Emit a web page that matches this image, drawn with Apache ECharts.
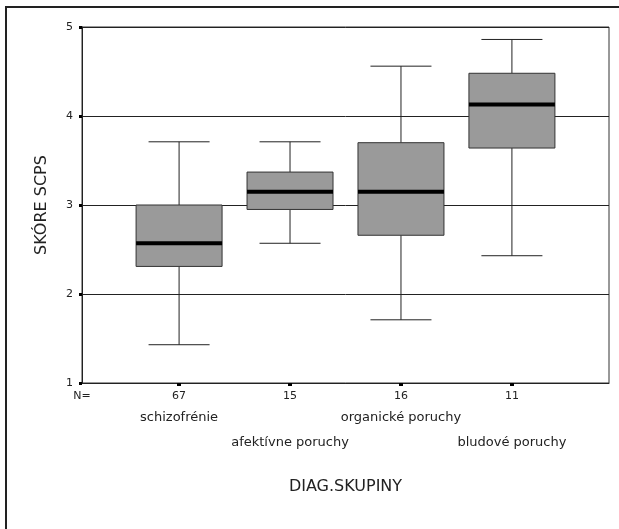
<!DOCTYPE html>
<html>
<head>
<meta charset="utf-8">
<script src="https://cdn.jsdelivr.net/npm/echarts@6/dist/echarts.min.js"></script>
<style>
html,body{margin:0;padding:0;background:#fff;}
#frame{position:absolute;left:5px;top:6px;width:640px;height:560px;border:2px solid #222;box-sizing:border-box;}
#chart{position:absolute;left:0;top:0;width:619px;height:529px;}
</style>
</head>
<body>
<div id="frame"></div>
<div id="chart"></div>
<script>
// Data
const categories = ['schizofrénie', 'afektívne poruchy', 'organické poruchy', 'bludové poruchy'];
const counts = ['67', '15', '16', '11'];
const whiskerLow = [1.43, 2.57, 1.71, 2.43];
const q1 = [2.31, 2.95, 2.66, 3.64];
const median = [2.57, 3.15, 3.15, 4.13];
const q3 = [3.00, 3.37, 3.70, 4.48];
const whiskerHigh = [3.71, 3.71, 4.56, 4.86];
const yTicks = [1, 2, 3, 4, 5];

const boxData = categories.map((c, i) => [i + 1, whiskerLow[i], q1[i], median[i], q3[i], whiskerHigh[i]]);

const FONT = '"DejaVu Sans", "Liberation Sans", Arial, sans-serif';

function renderBox(params, api) {
  const x = api.value(0);
  const lo = api.coord([x, api.value(1)]);
  const b1 = api.coord([x, api.value(2)]);
  const md = api.coord([x, api.value(3)]);
  const b3 = api.coord([x, api.value(4)]);
  const hi = api.coord([x, api.value(5)]);
  const halfBox = api.size([0.775, 0])[0] / 2;
  const halfCap = api.size([0.55, 0])[0] / 2;
  const cx = lo[0];
  const line = {stroke: '#222', lineWidth: 1};
  return {
    type: 'group',
    children: [
      {type: 'line', shape: {x1: cx, y1: lo[1], x2: cx, y2: b1[1]}, style: line},
      {type: 'line', shape: {x1: cx, y1: b3[1], x2: cx, y2: hi[1]}, style: line},
      {type: 'line', shape: {x1: cx - halfCap, y1: lo[1], x2: cx + halfCap, y2: lo[1]}, style: line},
      {type: 'line', shape: {x1: cx - halfCap, y1: hi[1], x2: cx + halfCap, y2: hi[1]}, style: line},
      {type: 'rect', shape: {x: cx - halfBox, y: b3[1], width: 2 * halfBox, height: b1[1] - b3[1]},
        style: {fill: '#9a9a9a', stroke: '#333', lineWidth: 1}},
      {type: 'line', shape: {x1: cx - halfBox, y1: md[1], x2: cx + halfBox, y2: md[1]},
        style: {stroke: '#000', lineWidth: 4}}
    ]
  };
}

const chart = echarts.init(document.getElementById('chart'));
chart.setOption({
  animation: false,
  backgroundColor: 'transparent',
  grid: {left: 82, top: 27, right: 10, bottom: 146, show: true, borderColor: '#333', borderWidth: 1},
  xAxis: [{
    type: 'value', min: 0.125, max: 4.875,
    splitLine: {show: false},
    axisLine: {lineStyle: {color: '#222', width: 1}},
    axisTick: {show: true, customValues: [1, 2, 3, 4], length: 3, lineStyle: {color: '#000', width: 4}},
    axisLabel: {
      customValues: [0.125, 1, 2, 3, 4],
      hideOverlap: false,
      margin: 7,
      color: '#222',
      fontFamily: FONT,
      fontSize: 11,
      formatter: function (v) {
        if (v < 0.5) return '{n|N=}';
        const i = Math.round(v) - 1;
        if (i % 2 === 0) return '{n|' + counts[i] + '}\n{c|' + categories[i] + '}';
        return '{n|' + counts[i] + '}';
      },
      rich: {
        n: {fontFamily: FONT, fontSize: 11, color: '#222', lineHeight: 13},
        c: {fontFamily: FONT, fontSize: 13, color: '#222', lineHeight: 30}
      }
    },
    name: 'DIAG.SKUPINY',
    nameLocation: 'middle',
    nameGap: 96,
    nameTextStyle: {fontFamily: FONT, fontSize: 16, color: '#222'}
  }, {
    type: 'value', min: 0.125, max: 4.875, position: 'bottom', gridIndex: 0,
    splitLine: {show: false},
    axisLine: {show: false},
    axisTick: {show: false},
    axisLabel: {
      customValues: [2, 4],
      hideOverlap: false,
      margin: 52,
      color: '#222',
      fontFamily: FONT,
      fontSize: 13,
      lineHeight: 16,
      formatter: function (v) { return categories[Math.round(v) - 1]; }
    }
  }],
  yAxis: {
    type: 'value', min: 1, max: 5, interval: 1,
    axisLine: {show: true, lineStyle: {color: '#222', width: 1}},
    axisTick: {show: true, length: 3, lineStyle: {color: '#000', width: 3}},
    axisLabel: {color: '#222', fontFamily: FONT, fontSize: 11, margin: 9,
      formatter: function (v) { return yTicks.indexOf(v) >= 0 ? String(v) : ''; }},
    splitLine: {show: true, lineStyle: {color: '#222', width: 1}},
    name: 'SKÓRE SCPS',
    nameLocation: 'middle',
    nameGap: 32,
    nameTextStyle: {fontFamily: FONT, fontSize: 16, color: '#222'}
  },
  series: [{
    type: 'custom',
    renderItem: renderBox,
    data: boxData,
    xAxisIndex: 0,
    encode: {x: 0, y: [1, 2, 3, 4, 5]},
    z: 5
  }]
});
</script>
</body>
</html>
